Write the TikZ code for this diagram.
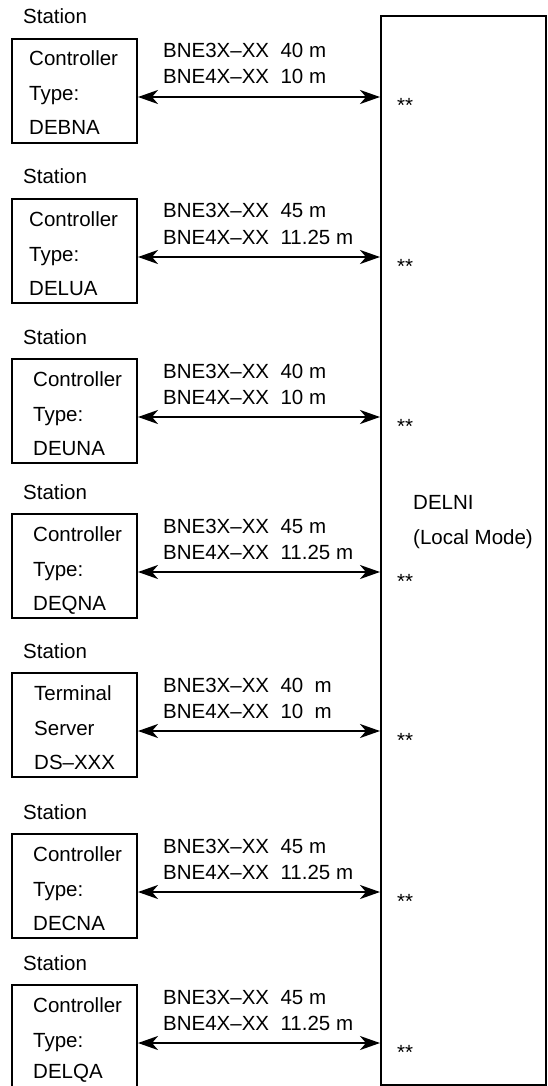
\documentclass[tikz,border=0pt]{standalone}
\usepackage{fontspec}
\setmainfont{Liberation Sans}
\usetikzlibrary{arrows.meta}
\begin{document}
\begin{tikzpicture}[x=1pt,y=-1pt,
  txt/.style={anchor=base west, inner sep=0pt, font=\fontsize{20.5}{23}\selectfont},
  stabox/.style={draw, line width=2pt, rectangle, inner sep=0pt, minimum width=125pt, minimum height=104pt},
  hubbox/.style={draw, line width=2pt, rectangle, inner sep=0pt, minimum width=165pt, minimum height=1069pt},
  cable/.style={line width=2pt, {Stealth[length=20pt,width=14pt,inset=6pt]}-{Stealth[length=20pt,width=14pt,inset=6pt]}}]
\useasboundingbox (0,0) rectangle (547,1086);
\node[hubbox] (delni) at (463.5,550.5) {};
\node[txt] (dl1) at (413,509) {DELNI};
\node[txt] (dl2) at (413,544) {(Local Mode)};
\foreach \i/\o/\la/\lb/\lc/\px/\py/\tx/\cy in {
  1/0/Controller/Type:/DEBNA/40 m/10 m/29/135,
  2/160/Controller/Type:/DELUA/45 m/11.25 m/29/135,
  3/320/Controller/Type:/DEUNA/40 m/10 m/33/135,
  4/475/Controller/Type:/DEQNA/45 m/11.25 m/33/135,
  5/634/Terminal/Server/DS--XXX/40\ \ m/10\ \ m/34/135,
  6/795/Controller/Type:/DECNA/45 m/11.25 m/33/135,
  7/946/Controller/Type:/DELQA/45 m/11.25 m/33/132}{
  \node[txt] (st\i) at (23,24+\o) {Station};
  \node[stabox] (b\i) at (74.5,91+\o) {};
  \node[txt] (la\i) at (\tx,66+\o) {\la};
  \node[txt] (lb\i) at (\tx,101+\o) {\lb};
  \node[txt] (lc\i) at (\tx,\cy+\o) {\lc};
  \node[txt] (ca\i) at (163,58+\o) {BNE3X--XX\ \ \px};
  \node[txt] (cb\i) at (163,84+\o) {BNE4X--XX\ \ \py};
  \coordinate (y\i) at (0,97+\o);
  \draw[cable] (b\i.east |- y\i) -- (delni.west |- y\i);
  \node[txt] (ast\i) at (397,113+\o) {**};
}
\end{tikzpicture}
\end{document}
